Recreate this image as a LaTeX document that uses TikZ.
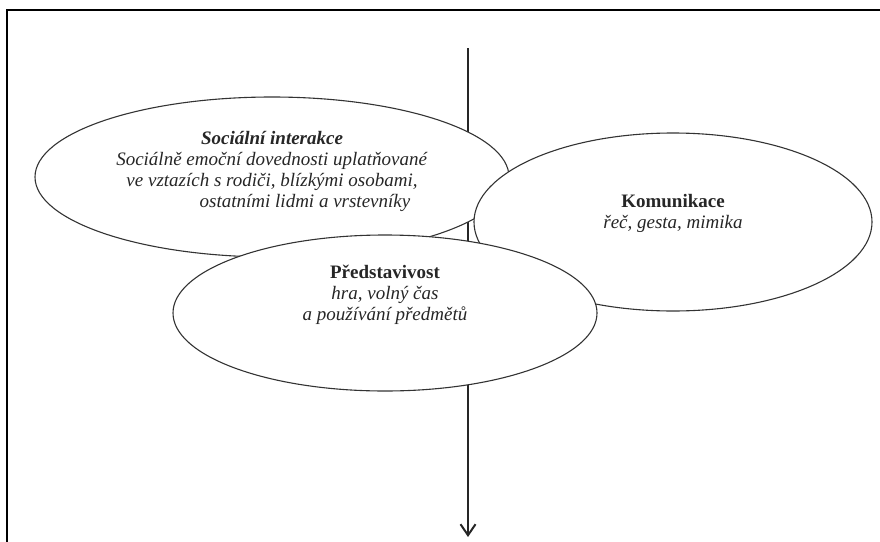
\documentclass[tikz,border=0pt]{standalone}
\usepackage{fontspec}
\setmainfont{Liberation Serif}
\usetikzlibrary{shapes.geometric,arrows.meta}

\begin{document}
\begin{tikzpicture}[x=1pt,y=-1pt,
    bubble/.style ={ellipse, draw=black!80, line width=1.1pt, fill=white, inner sep=0pt},
    blurb/.style ={align=center, text=black!85, font=\fontsize{19}{21}\selectfont},
    frame/.style ={line width=2.8pt, line cap=rect}]
   \useasboundingbox (0,0) rectangle (880,541);
   % cropped frame
   \coordinate (corner) at (7,10);
   \coordinate (frameright) at (882,10);
   \coordinate (framebottom) at (7,543);
   \draw[frame] (framebottom) -- (corner) -- (frameright);
   % time axis behind the bubbles
   \coordinate (start) at (468,48);
   \coordinate (end) at (468,537);
   \draw[line width=2pt, black!85, -{Straight Barb[length=11pt,width=15pt,line width=2pt]}] (start) to (end);
   % bubbles
   \node[bubble, minimum width=474, minimum height=160] (social) at (272,177) {};
   \node[bubble, minimum width=398, minimum height=178] (comm) at (673,222) {};
   \node[bubble, minimum width=424, minimum height=156] (imag) at (385,313) {};
   \node[blurb] (socialtext) at ([yshift=6]social.center)
      {\textbf{\textit{Sociální interakce}}\\
       \textit{Sociálně emoční dovednosti uplatňované}\\
       \textit{ve vztazích s rodiči, blízkými osobami,}\\
       \hspace*{66pt}\textit{ostatními lidmi a vrstevníky}};
   \node[blurb] (commtext) at ([yshift=9]comm.center)
      {\textbf{Komunikace}\\ \textit{řeč, gesta, mimika}};
   \node[blurb] (imagtext) at ([yshift=18]imag.center)
      {\textbf{Představivost}\\ \textit{hra, volný čas}\\ \textit{a používání předmětů}};
\end{tikzpicture}
\end{document}
